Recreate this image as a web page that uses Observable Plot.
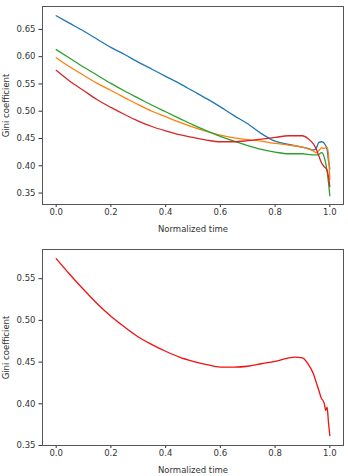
<!DOCTYPE html>
<html>
<head>
<meta charset="utf-8">
<script src="https://cdn.jsdelivr.net/npm/d3@7"></script>
<script src="https://cdn.jsdelivr.net/npm/@observablehq/plot@0.6"></script>
<style>
  html, body { margin: 0; padding: 0; background: #fff; }
  svg { display: block; }
</style>
</head>
<body>
<div id="chart"></div>
<script>
// Normalized time sample points
const times = [0, 0.05, 0.1, 0.15, 0.2, 0.25, 0.3, 0.35, 0.4, 0.45, 0.5, 0.55, 0.6, 0.65, 0.7, 0.75, 0.8, 0.85, 0.9, 0.92, 0.94, 0.95, 0.96, 0.97, 0.98, 0.99, 0.995, 1.0];

// Top panel series (Gini coefficient)
const blueSeries   = [0.675, 0.661, 0.647, 0.632, 0.617, 0.604, 0.590, 0.577, 0.564, 0.551, 0.537, 0.523, 0.508, 0.492, 0.477, 0.459, 0.445, 0.439, 0.434, 0.432, 0.429, 0.432, 0.443, 0.444, 0.441, 0.430, 0.410, 0.395];
const orangeSeries = [0.598, 0.581, 0.566, 0.551, 0.538, 0.525, 0.512, 0.500, 0.490, 0.480, 0.471, 0.463, 0.456, 0.451, 0.448, 0.445, 0.441, 0.438, 0.434, 0.431, 0.427, 0.424, 0.428, 0.433, 0.432, 0.434, 0.420, 0.375];
const greenSeries  = [0.613, 0.597, 0.581, 0.566, 0.551, 0.537, 0.524, 0.511, 0.499, 0.487, 0.475, 0.464, 0.454, 0.445, 0.437, 0.430, 0.425, 0.422, 0.422, 0.421, 0.420, 0.420, 0.421, 0.424, 0.415, 0.390, 0.370, 0.345];
const redSeries    = [0.575, 0.555, 0.538, 0.521, 0.507, 0.494, 0.482, 0.472, 0.464, 0.457, 0.452, 0.447, 0.444, 0.444, 0.446, 0.449, 0.452, 0.455, 0.455, 0.450, 0.440, 0.431, 0.418, 0.405, 0.398, 0.392, 0.380, 0.362];

// Bottom panel (single run)
const timesBottom = [0, 0.05, 0.1, 0.15, 0.2, 0.25, 0.3, 0.35, 0.4, 0.45, 0.5, 0.55, 0.6, 0.65, 0.7, 0.75, 0.8, 0.85, 0.87, 0.9, 0.92, 0.94, 0.95, 0.96, 0.97, 0.975, 0.98, 0.985, 0.99, 0.995, 1.0];
const bottomSeries = [0.574, 0.555, 0.537, 0.520, 0.505, 0.492, 0.480, 0.471, 0.463, 0.456, 0.451, 0.447, 0.444, 0.444, 0.445, 0.448, 0.451, 0.455, 0.456, 0.455, 0.448, 0.436, 0.426, 0.416, 0.406, 0.404, 0.400, 0.392, 0.396, 0.378, 0.362];

const xTicks = [0, 0.2, 0.4, 0.6, 0.8, 1.0];
const yTicksTop = [0.35, 0.40, 0.45, 0.50, 0.55, 0.60, 0.65];
const yTicksBottom = [0.35, 0.40, 0.45, 0.50, 0.55];

const seriesTop = [
  {name: "blue", values: blueSeries, color: "#1f77b4"},
  {name: "orange", values: orangeSeries, color: "#ff7f0e"},
  {name: "green", values: greenSeries, color: "#2ca02c"},
  {name: "red", values: redSeries, color: "#d62728"}
];

const toRows = (ts, vs) => ts.map((t, i) => ({t, v: vs[i]}));

const common = {
  width: 348,
  height: 238,
  marginLeft: 42,
  marginRight: 5,
  style: {fontFamily: "'DejaVu Sans', sans-serif", fontSize: "8.5px", color: "#333", background: "#fff"},
};

function axes(yTicks) {
  return [
    Plot.axisX({ticks: xTicks, tickFormat: d3.format(".1f"), tickSize: 3, tickPadding: 1.5,
      label: "Normalized time", labelAnchor: "center", labelArrow: "none", labelOffset: 27}),
    Plot.axisY({ticks: yTicks, tickFormat: d3.format(".2f"), tickSize: 3.5, tickPadding: 3.5,
      label: "Gini coefficient", labelAnchor: "center", labelArrow: "none", labelOffset: 40}),
    Plot.frame({stroke: "#555", strokeWidth: 1})
  ];
}

const topChart = Plot.plot({
  ...common,
  marginTop: 6,
  marginBottom: 34,
  x: {domain: [-0.05, 1.05]},
  y: {domain: [0.329, 0.692]},
  marks: [
    ...seriesTop.map(s => Plot.line(toRows(times, s.values), {x: "t", y: "v", stroke: s.color, strokeWidth: 1.3, curve: "monotone-x"})),
    ...axes(yTicksTop)
  ]
});

const bottomChart = Plot.plot({
  ...common,
  marginTop: 11,
  marginBottom: 31,
  x: {domain: [-0.05, 1.05]},
  y: {domain: [0.35, 0.585]},
  marks: [
    Plot.line(toRows(timesBottom, bottomSeries), {x: "t", y: "v", stroke: "#f01010", strokeWidth: 1.3, curve: "monotone-x"}),
    ...axes(yTicksBottom)
  ]
});

document.getElementById("chart").append(topChart, bottomChart);
</script>
</body>
</html>
